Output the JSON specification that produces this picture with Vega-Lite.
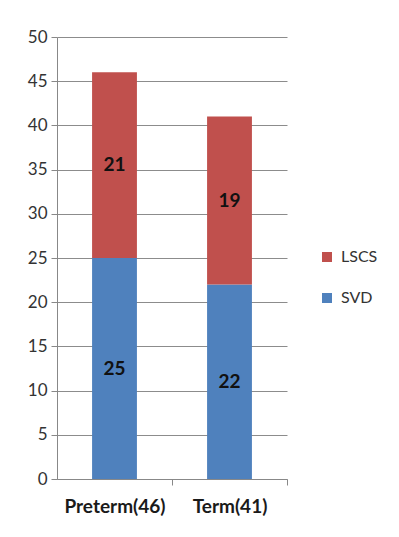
{
  "$schema": "https://vega.github.io/schema/vega-lite/v6.json",
  "autosize": "none",
  "width": 230,
  "height": 442,
  "padding": {"left": 57, "top": 37, "right": 112, "bottom": 58},
  "background": "white",
  "config": {
    "view": {"stroke": null},
    "font": "Lato"
  },
  "data": {
    "values": [
      {"group": "Preterm(46)", "type": "SVD", "count": 25},
      {"group": "Preterm(46)", "type": "LSCS", "count": 21},
      {"group": "Term(41)", "type": "SVD", "count": 22},
      {"group": "Term(41)", "type": "LSCS", "count": 19}
    ]
  },
  "transform": [
    {"stack": "count", "groupby": ["group"], "sort": [{"field": "type", "order": "descending"}], "as": ["y0", "y1"]}
  ],
  "encoding": {
    "x": {
      "field": "group", "type": "nominal", "title": null,
      "sort": ["Preterm(46)", "Term(41)"],
      "scale": {"paddingInner": 0.61, "paddingOuter": 0.305},
      "axis": {
        "labelAngle": 0, "labelFont": "Lato", "labelFontSize": 19, "labelFontWeight": "bold",
        "labelColor": "#1a1a1a", "labelPadding": 12,
        "domainColor": "#888888", "tickColor": "#888888", "tickSize": 6,
        "tickOffset": 57.5, "labelOffset": -57.5
      }
    },
    "y": {
      "field": "y1", "type": "quantitative", "title": null,
      "scale": {"domain": [0, 50], "nice": false},
      "axis": {
        "values": [0, 5, 10, 15, 20, 25, 30, 35, 40, 45, 50],
        "labelFont": "Lato", "labelFontSize": 17, "labelColor": "#333333", "labelPadding": 4,
        "domainColor": "#888888", "tickColor": "#888888", "tickSize": 6,
        "gridColor": "#8c8c8c", "gridOpacity": 1
      }
    }
  },
  "layer": [
    {
      "mark": {"type": "bar"},
      "encoding": {
        "y2": {"field": "y0"},
        "color": {
          "field": "type", "type": "nominal",
          "scale": {"domain": ["LSCS", "SVD"], "range": ["#C0504D", "#4F81BD"]},
          "legend": {
            "title": null, "orient": "none", "legendX": 262, "legendY": 212,
            "symbolType": "square", "symbolSize": 100, "symbolStrokeWidth": 0, "symbolOpacity": 1,
            "labelFont": "Lato", "labelFontSize": 16, "labelColor": "#333333",
            "rowPadding": 25, "labelOffset": 6
          }
        }
      }
    },
    {
      "transform": [{"calculate": "(datum.y0 + datum.y1) / 2", "as": "mid"}],
      "mark": {"type": "text", "font": "Lato", "fontSize": 19, "fontWeight": "bold", "color": "#111111"},
      "encoding": {
        "y": {"field": "mid", "type": "quantitative"},
        "text": {"field": "count", "type": "quantitative"}
      }
    }
  ]
}
